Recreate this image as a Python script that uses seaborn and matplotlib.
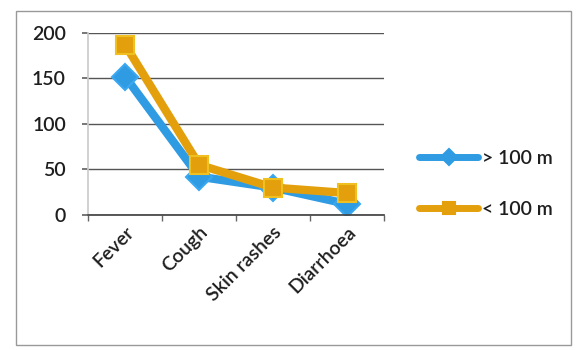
import matplotlib
matplotlib.use("Agg")
import matplotlib.pyplot as plt
import seaborn as sns
import pandas as pd

categories = ["Fever", "Cough", "Skin rashes", "Diarrhoea"]
series_names = ["> 100 m", "< 100 m"]
above_100m = [152, 42, 30, 12]
below_100m = [187, 55, 30, 24]
y_ticks = [0, 50, 100, 150, 200]

rows = []
for name, vals in zip(series_names, [above_100m, below_100m]):
    for i, (c, v) in enumerate(zip(categories, vals)):
        rows.append({"pos": i, "cat": c, "series": name, "value": v})
df = pd.DataFrame(rows)

sns.set_theme(style="white")
plt.rcParams["font.family"] = ["Lato", "DejaVu Sans"]

fig = plt.figure(figsize=(5.76, 3.5), dpi=100)
fig.patch.set_facecolor("white")
ax = fig.add_axes([0.153, 0.386, 0.514, 0.52])

palette = {"> 100 m": "#2e9be3", "< 100 m": "#e3a00c"}
sns.lineplot(data=df, x="pos", y="value", hue="series", style="series",
             palette=palette, markers={"> 100 m": "D", "< 100 m": "s"},
             dashes=False, linewidth=6, markersize=13, markeredgewidth=1.5,
             ax=ax, legend=True)
for line, ec in zip(ax.lines, ["#3aa8f0", "#f0c020"]):
    line.set_markeredgecolor(ec)

txt = "#1e1e1e"
ax.set_xlim(-0.5, 3.5)
ax.set_ylim(0, 200)
ax.set_yticks(y_ticks)
ax.set_yticklabels([str(t) for t in y_ticks], fontsize=14, color=txt, fontweight="semibold")
ax.set_xticks(range(len(categories)))
ax.set_xticklabels(categories, rotation=45, ha="right", rotation_mode="anchor",
                   fontsize=14, color=txt, fontweight="semibold")
ax.tick_params(axis="x", length=0, pad=6)
ax.tick_params(axis="y", length=4, color="#666666", left=True, pad=12)
ax.set_xticks([-0.5, 0.5, 1.5, 2.5, 3.5], minor=True)
ax.tick_params(axis="x", which="minor", length=4, color="#666666", bottom=True)
ax.yaxis.grid(True, color="#555555", linewidth=1)
ax.set_axisbelow(True)
ax.set_xlabel("")
ax.set_ylabel("")
for s in ["top", "right"]:
    ax.spines[s].set_visible(False)
ax.spines["left"].set_color("#cccccc")
ax.spines["bottom"].set_color("#444444")

h, l = ax.get_legend_handles_labels()
leg = ax.legend(h, l, loc="center left", bbox_to_anchor=(1.06, 0.17), frameon=False,
                prop={"size": 14, "weight": "semibold"}, handlelength=3.0,
                labelspacing=1.75, handletextpad=0.2)
for t in leg.get_texts():
    t.set_color(txt)
for lh, c in zip(leg.legend_handles, ["#2e9be3", "#e3a00c"]):
    lh.set_markersize(8)
    lh.set_linewidth(5)
    lh.set_markeredgecolor(c)

border = plt.Rectangle((0.027, 0.015), 0.965, 0.955, transform=fig.transFigure,
                       fill=False, edgecolor="#999999", linewidth=1)
fig.add_artist(border)

fig.savefig("out.png", dpi=100)
